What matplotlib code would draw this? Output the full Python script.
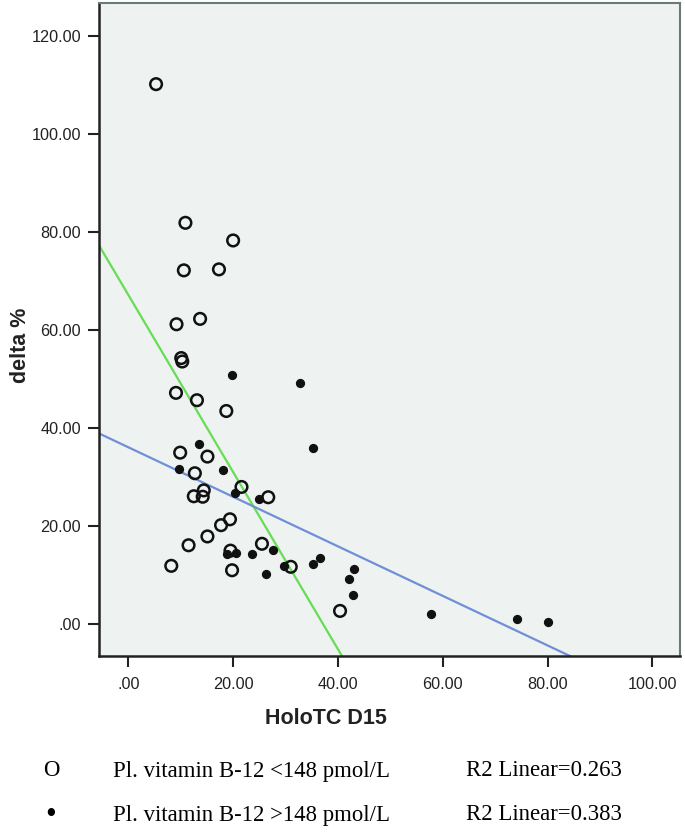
import matplotlib.pyplot as plt
import numpy as np
from matplotlib.ticker import FuncFormatter

# group 1: Pl. vitamin B-12 <148 pmol/L (open circles)
low_x = [5.3, 10.9, 20.0, 10.6, 17.3, 9.2, 13.7, 10.1, 10.3, 9.1, 13.1, 18.7,
         9.9, 15.1, 12.7, 14.4, 12.5, 14.2, 21.6, 26.7, 19.4, 17.7, 15.1, 11.5,
         8.2, 19.5, 25.5, 19.8, 31.0, 40.4]
low_y = [110.2, 81.9, 78.3, 72.2, 72.4, 61.2, 62.3, 54.3, 53.6, 47.2, 45.7, 43.5,
         35.0, 34.2, 30.8, 27.3, 26.1, 26.0, 28.0, 25.9, 21.4, 20.2, 17.9, 16.1,
         11.9, 15.0, 16.4, 11.0, 11.7, 2.7]

# group 2: Pl. vitamin B-12 >148 pmol/L (filled dots)
high_x = [19.7, 32.8, 13.5, 35.2, 9.7, 18.1, 20.4, 25.0, 18.8, 20.6, 23.6, 27.6,
          26.3, 29.7, 35.2, 36.5, 43.1, 42.2, 42.9, 57.7, 74.1, 80.0]
high_y = [50.9, 49.2, 36.7, 35.9, 31.6, 31.4, 26.8, 25.5, 14.3, 14.5, 14.3, 15.2,
          10.3, 11.8, 12.2, 13.6, 11.2, 9.2, 6.0, 2.1, 1.1, 0.4]

# linear fits (intercept, slope) as drawn in the chart
fit_low = (67.2, -1.808)
fit_high = (36.1, -0.5056)

x_ticks = [0, 20, 40, 60, 80, 100]
y_ticks = [0, 20, 40, 60, 80, 100, 120]

legend_marks = ["O", "\u2022"]
legend_mark_sizes = [16.4, 22]
legend_labels = ["Pl. vitamin B-12 <148 pmol/L", "Pl. vitamin B-12 >148 pmol/L"]
legend_r2 = ["R2 Linear=0.263", "R2 Linear=0.383"]


def fmt(v, pos):
    s = "%.2f" % v
    if s.startswith("0"):
        s = s[1:]
    return s


fig = plt.figure(figsize=(6.85, 8.32), dpi=100)
ax = fig.add_axes([99.3 / 685, 1 - 656 / 832, (679.7 - 99.3) / 685, (656 - 3.3) / 832])
ax.set_facecolor("#eef2f1")

xmin, xmax = -5.53, 105.2
ymin, ymax = -6.5, 126.7
ax.set_xlim(xmin, xmax)
ax.set_ylim(ymin, ymax)

xx = np.array([xmin, xmax])
ax.plot(xx, fit_low[0] + fit_low[1] * xx, color="#66dd55", lw=1.6, zorder=2)
ax.plot(xx, fit_high[0] + fit_high[1] * xx, color="#6f8fd8", lw=1.6, zorder=2)

ax.scatter(low_x, low_y, s=70, facecolors="none", edgecolors="#111111",
           linewidths=1.8, zorder=3)
ax.scatter(high_x, high_y, s=32, color="#111111", zorder=3)

ax.set_xticks(x_ticks)
ax.set_yticks(y_ticks)
ax.xaxis.set_major_formatter(FuncFormatter(fmt))
ax.yaxis.set_major_formatter(FuncFormatter(fmt))
ax.tick_params(direction="out", length=8, width=1.5, color="#222222",
               labelsize=11.7, labelcolor="#222222", pad=5)
ax.tick_params(axis="x", pad=7)
for lab in ax.get_xticklabels() + ax.get_yticklabels():
    lab.set_family("Liberation Sans")

for side in ["left", "bottom"]:
    ax.spines[side].set_linewidth(1.8)
    ax.spines[side].set_color("#222222")
for side in ["top", "right"]:
    ax.spines[side].set_linewidth(1.5)
    ax.spines[side].set_color("#6a7a78")

fig.text(326 / 685, 1 - 718 / 832, "HoloTC D15", family="Liberation Sans",
         fontsize=15.5, fontweight="bold", color="#222222", ha="center", va="center")
fig.text(20 / 685, 1 - 345 / 832, "delta %", family="Liberation Sans",
         fontsize=15.5, fontweight="bold", color="#222222", ha="center", va="center",
         rotation=90)

rows_y = [771, 815]
for i in range(2):
    yy = 1 - rows_y[i] / 832
    fig.text(51 / 685, yy, legend_marks[i], family="Liberation Serif",
             fontsize=legend_mark_sizes[i], ha="center", va="center")
    fig.text(113 / 685, yy, legend_labels[i], family="Liberation Serif",
             fontsize=16.4, ha="left", va="center")
    fig.text(466 / 685, yy, legend_r2[i], family="Liberation Serif",
             fontsize=16.4, ha="left", va="center")

fig.savefig("out.png", dpi=100)
